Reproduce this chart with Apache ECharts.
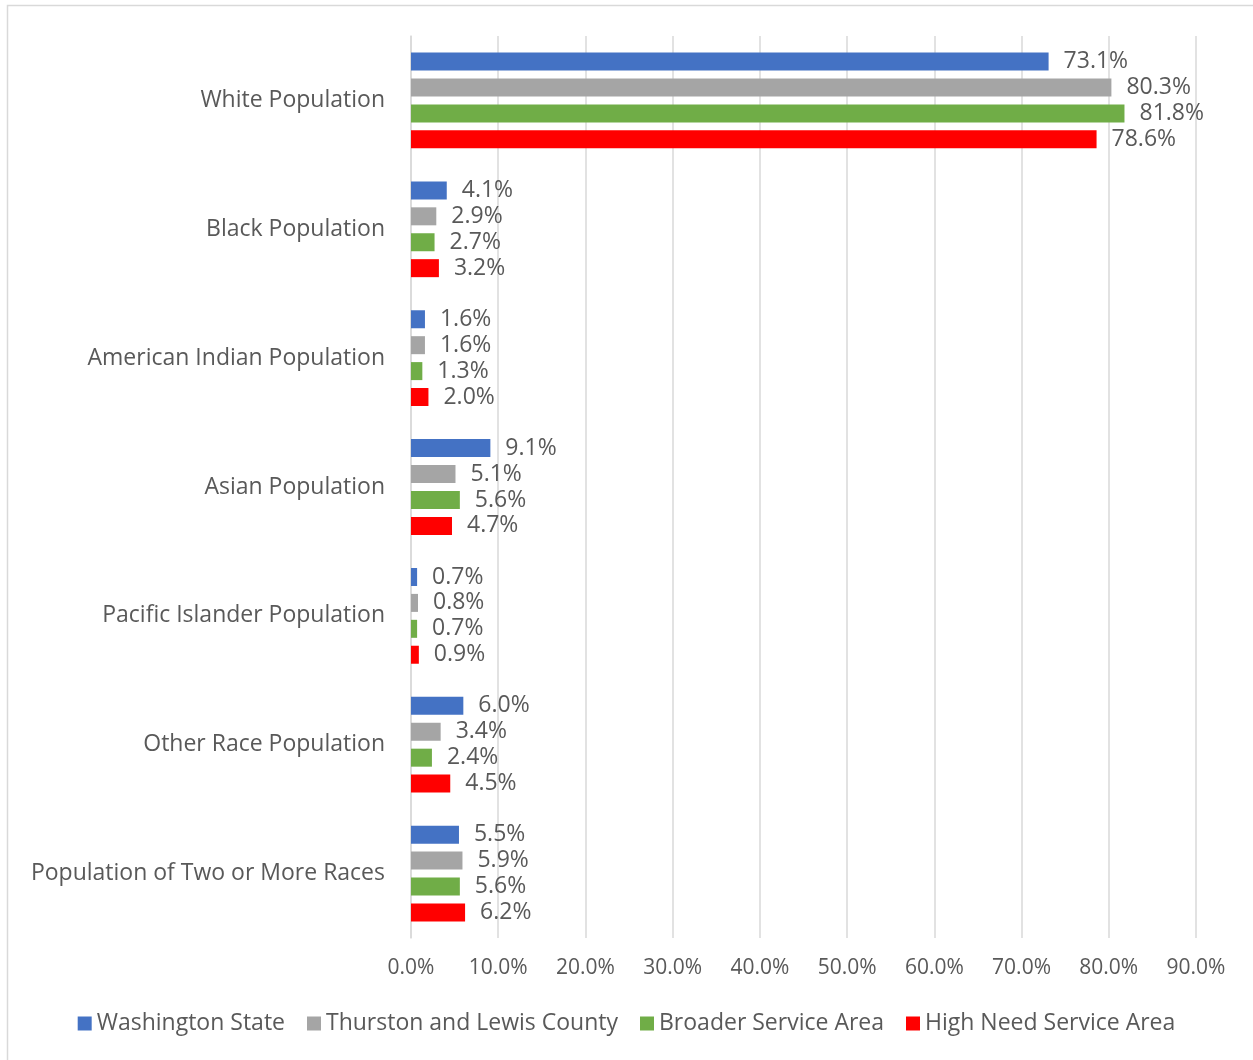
<!DOCTYPE html>
<html><head><meta charset="utf-8">
<script src="https://cdn.jsdelivr.net/npm/echarts@6/dist/echarts.min.js"></script>
<style>html,body{margin:0;padding:0;background:#fff}#c{width:1253px;height:1060px}</style>
</head><body><div id="c"></div>
<script>
const categories = ["White Population","Black Population","American Indian Population","Asian Population","Pacific Islander Population","Other Race Population","Population of Two or More Races"];
const seriesNames = ["Washington State","Thurston and Lewis County","Broader Service Area","High Need Service Area"];
const washington = [73.1, 4.1, 1.6, 9.1, 0.7, 6.0, 5.5];
const thurstonLewis = [80.3, 2.9, 1.6, 5.1, 0.8, 3.4, 5.9];
const broader = [81.8, 2.7, 1.3, 5.6, 0.7, 2.4, 5.6];
const highNeed = [78.6, 3.2, 2.0, 4.7, 0.9, 4.5, 6.2];
const colors = ["#4472C4","#A5A5A5","#70AD47","#FF0000"];
const FONT = "Open Sans";
const TXT = "#595959";
const chart = echarts.init(document.getElementById('c'));
const allData = [washington, thurstonLewis, broader, highNeed];
chart.setOption({
  animation:false,
  textStyle:{fontFamily:FONT},
  graphic:[{type:'rect',shape:{x:7.5,y:5.5,width:1260,height:1060},style:{fill:null,stroke:'#d9d9d9',lineWidth:1.5},silent:true}],
  grid:{left:411,right:57,top:36,bottom:122},
  legend:{bottom:20,left:'center',itemWidth:14,itemHeight:14,itemGap:22,icon:'rect',
    textStyle:{fontFamily:FONT,fontSize:23,color:TXT},data:seriesNames},
  xAxis:{type:'value',min:0,max:90,interval:10,
    axisLabel:{formatter:v=>v.toFixed(1)+'%',fontFamily:FONT,fontSize:21,color:TXT,margin:20},
    splitLine:{show:true,lineStyle:{color:'#d9d9d9',width:1.5}},axisLine:{show:false},axisTick:{show:false}},
  yAxis:{type:'category',data:categories,inverse:true,
    axisLabel:{fontFamily:FONT,fontSize:23,color:TXT,margin:26},
    axisLine:{show:true,lineStyle:{color:'#d9d9d9',width:1.5}},axisTick:{show:false}},
  series: seriesNames.map((n,i)=>({
    name:n,type:'bar',data:allData[i],barWidth:18,barGap:'44%',
    itemStyle:{color:colors[i]},
    label:{show:true,position:'right',distance:15,formatter:p=>p.value.toFixed(1)+'%',fontFamily:FONT,fontSize:23,color:TXT}
  }))
});
</script></body></html>
